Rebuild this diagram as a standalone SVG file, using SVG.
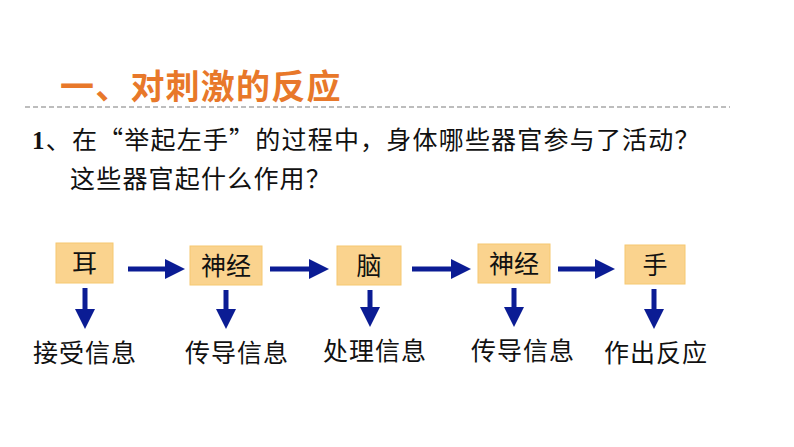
<svg xmlns="http://www.w3.org/2000/svg" width="794" height="447" viewBox="0 0 794 447">
<style>
.t{font-family:"Noto Sans CJK SC","Liberation Sans",sans-serif}
.box{fill:#FAD38E;stroke:#F6C870;stroke-width:1}
.bt{font-size:25px;fill:#111;text-anchor:middle}
.lb{font-size:25px;fill:#111;text-anchor:middle;letter-spacing:1px}
.ar{stroke:#0B1C94;stroke-width:5;fill:none;marker-end:url(#ah)}
</style>
<defs><marker id="ah" markerWidth="4" markerHeight="4" refX="2.2" refY="2" orient="auto" markerUnits="strokeWidth"><path d="M0,0L4,2L0,4Z" fill="#0B1C94"/></marker></defs>
<rect width="794" height="447" fill="#fff"/>
<text class="t" x="60" y="99" font-size="34" font-weight="bold" fill="#E8782A" letter-spacing="1.2">一、对刺激的反应</text>
<line x1="25" y1="107" x2="730" y2="107" stroke="#A8A8A8" stroke-width="1.5" stroke-dasharray="5,3"/>
<text class="t" x="32" y="149" font-size="25" fill="#111" letter-spacing="1.2"><tspan font-family="Liberation Serif" font-weight="bold">1</tspan>、在“举起左手”的过程中，身体哪些器官参与了活动？</text>
<text class="t" x="70" y="188" font-size="25" fill="#111" letter-spacing="1.2">这些器官起什么作用？</text>
<g id="n1"><rect class="box" x="56" y="243" width="57" height="40"/><text class="t bt" x="84.5" y="272">耳</text></g>
<g id="n2"><rect class="box" x="190" y="246" width="72" height="39"/><text class="t bt" x="226" y="275">神经</text></g>
<g id="n3"><rect class="box" x="337" y="246" width="64" height="39"/><text class="t bt" x="369" y="275">脑</text></g>
<g id="n4"><rect class="box" x="478" y="244" width="72" height="39"/><text class="t bt" x="514" y="273">神经</text></g>
<g id="n5"><rect class="box" x="625" y="245" width="60" height="39"/><text class="t bt" x="655" y="274">手</text></g>
<g id="connectors">
<line class="ar" x1="128" y1="269" x2="176" y2="269"/>
<line class="ar" x1="270" y1="269" x2="320" y2="269"/>
<line class="ar" x1="412" y1="269" x2="462" y2="269"/>
<line class="ar" x1="558" y1="269" x2="606" y2="269"/>
<line class="ar" x1="85" y1="288" x2="85" y2="320"/>
<line class="ar" x1="226" y1="290" x2="226" y2="320"/>
<line class="ar" x1="370" y1="290" x2="370" y2="318"/>
<line class="ar" x1="514" y1="288" x2="514" y2="318"/>
<line class="ar" x1="654" y1="289" x2="654" y2="320"/>
</g>
<g id="labels">
<text class="t lb" x="85" y="362">接受信息</text>
<text class="t lb" x="237" y="362">传导信息</text>
<text class="t lb" x="375" y="360">处理信息</text>
<text class="t lb" x="523" y="360">传导信息</text>
<text class="t lb" x="656" y="362">作出反应</text>
</g>
</svg>
